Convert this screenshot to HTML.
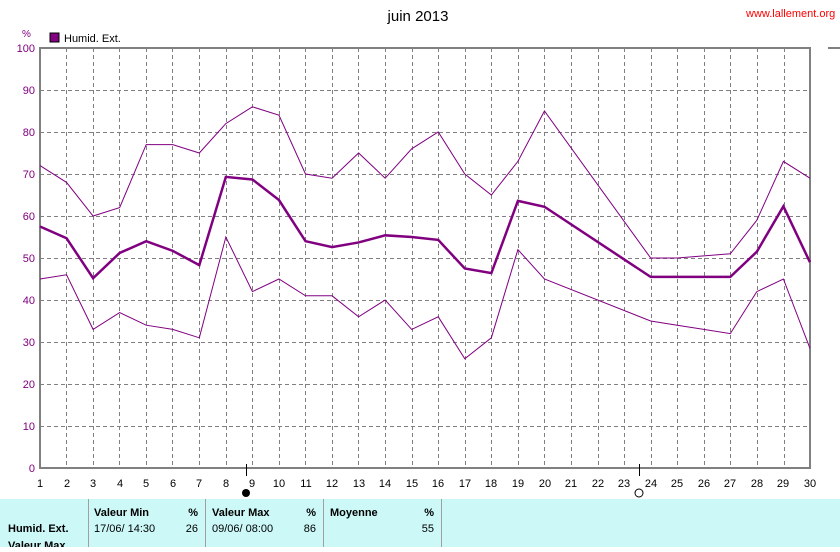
<!DOCTYPE html>
<html><head><style>
body{margin:0;background:#fff;width:840px;height:547px;overflow:hidden;font-family:"Liberation Sans",sans-serif}
svg text{font-family:"Liberation Sans",sans-serif;font-size:11px}
</style></head><body>
<svg width="840" height="547" xmlns="http://www.w3.org/2000/svg">
<text x="418" y="21" font-size="15" text-anchor="middle" style="font-size:15px">juin 2013</text>
<text x="746" y="17" fill="#f00" style="font-size:11px">www.lallement.org</text>
<rect x="50" y="33" width="9" height="9" fill="#800080" stroke="#000" stroke-width="1"/>
<text x="64" y="42">Humid. Ext.</text>
<text x="22" y="37" fill="#800080" style="font-size:10px">%</text>
<g stroke="#808080" stroke-dasharray="4,3" stroke-width="1">
<line x1="40" x2="810" y1="90.5" y2="90.5"/><line x1="40" x2="810" y1="132.5" y2="132.5"/><line x1="40" x2="810" y1="174.5" y2="174.5"/><line x1="40" x2="810" y1="216.5" y2="216.5"/><line x1="40" x2="810" y1="258.5" y2="258.5"/><line x1="40" x2="810" y1="300.5" y2="300.5"/><line x1="40" x2="810" y1="342.5" y2="342.5"/><line x1="40" x2="810" y1="384.5" y2="384.5"/><line x1="40" x2="810" y1="426.5" y2="426.5"/>
<line x1="66.5" x2="66.5" y1="48" y2="468"/><line x1="93.5" x2="93.5" y1="48" y2="468"/><line x1="119.5" x2="119.5" y1="48" y2="468"/><line x1="146.5" x2="146.5" y1="48" y2="468"/><line x1="172.5" x2="172.5" y1="48" y2="468"/><line x1="199.5" x2="199.5" y1="48" y2="468"/><line x1="226.5" x2="226.5" y1="48" y2="468"/><line x1="252.5" x2="252.5" y1="48" y2="468"/><line x1="279.5" x2="279.5" y1="48" y2="468"/><line x1="305.5" x2="305.5" y1="48" y2="468"/><line x1="332.5" x2="332.5" y1="48" y2="468"/><line x1="358.5" x2="358.5" y1="48" y2="468"/><line x1="385.5" x2="385.5" y1="48" y2="468"/><line x1="412.5" x2="412.5" y1="48" y2="468"/><line x1="438.5" x2="438.5" y1="48" y2="468"/><line x1="465.5" x2="465.5" y1="48" y2="468"/><line x1="491.5" x2="491.5" y1="48" y2="468"/><line x1="518.5" x2="518.5" y1="48" y2="468"/><line x1="544.5" x2="544.5" y1="48" y2="468"/><line x1="571.5" x2="571.5" y1="48" y2="468"/><line x1="598.5" x2="598.5" y1="48" y2="468"/><line x1="624.5" x2="624.5" y1="48" y2="468"/><line x1="651.5" x2="651.5" y1="48" y2="468"/><line x1="677.5" x2="677.5" y1="48" y2="468"/><line x1="704.5" x2="704.5" y1="48" y2="468"/><line x1="730.5" x2="730.5" y1="48" y2="468"/><line x1="757.5" x2="757.5" y1="48" y2="468"/><line x1="784.5" x2="784.5" y1="48" y2="468"/>
</g>
<rect x="40" y="48" width="770" height="420" fill="none" stroke="#808080" stroke-width="2"/>
<g fill="#800080" text-anchor="end" style="font-size:11px">
<text x="35" y="52">100</text><text x="35" y="94">90</text><text x="35" y="136">80</text><text x="35" y="178">70</text><text x="35" y="220">60</text><text x="35" y="262">50</text><text x="35" y="304">40</text><text x="35" y="346">30</text><text x="35" y="388">20</text><text x="35" y="430">10</text><text x="35" y="472">0</text>
</g>
<g text-anchor="middle" style="font-size:11px">
<text x="40" y="487">1</text><text x="67" y="487">2</text><text x="93" y="487">3</text><text x="120" y="487">4</text><text x="146" y="487">5</text><text x="173" y="487">6</text><text x="199" y="487">7</text><text x="226" y="487">8</text><text x="252" y="487">9</text><text x="279" y="487">10</text><text x="306" y="487">11</text><text x="332" y="487">12</text><text x="359" y="487">13</text><text x="385" y="487">14</text><text x="412" y="487">15</text><text x="438" y="487">16</text><text x="465" y="487">17</text><text x="491" y="487">18</text><text x="518" y="487">19</text><text x="545" y="487">20</text><text x="571" y="487">21</text><text x="598" y="487">22</text><text x="624" y="487">23</text><text x="651" y="487">24</text><text x="677" y="487">25</text><text x="704" y="487">26</text><text x="730" y="487">27</text><text x="757" y="487">28</text><text x="783" y="487">29</text><text x="810" y="487">30</text>
</g>
<line x1="246.5" x2="246.5" y1="464" y2="476" stroke="#000"/>
<circle cx="246" cy="493" r="4" fill="#000"/>
<line x1="639.5" x2="639.5" y1="464" y2="476" stroke="#000"/>
<circle cx="639" cy="493" r="4" fill="none" stroke="#000"/>
<g transform="translate(40,468) scale(26.55,-4.2)" fill="none" stroke="#800080">
<polyline vector-effect="non-scaling-stroke" stroke-width="1" points="0,72 1,68 2,60 3,62 4,77 5,77 6,75 7,82 8,86 9,84 10,70 11,69 12,75 13,69 14,76 15,80 16,70 17,65 18,73 19,85 23,50 24,50 25,50.5 26,51 27,59 28,73 29,69"/>
<polyline vector-effect="non-scaling-stroke" stroke-width="2.5" points="0,57.5 1,54.7 2,45.2 3,51.2 4,54 5,51.7 6,48.3 7,69.3 8,68.7 9,63.8 10,54 11,52.6 12,53.7 13,55.4 14,55 15,54.3 16,47.5 17,46.4 18,63.6 19,62.2 23,45.5 24,45.5 25,45.5 26,45.5 27,51.5 28,62.3 29,49"/>
<polyline vector-effect="non-scaling-stroke" stroke-width="1" points="0,45 1,46 2,33 3,37 4,34 5,33 6,31 7,55 8,42 9,45 10,41 11,41 12,36 13,40 14,33 15,36 16,26 17,31 18,52 19,45 23,35 24,34 25,33 26,32 27,42 28,45 29,28.5"/>
</g>
<line x1="828" x2="840" y1="48" y2="48" stroke="#808080" stroke-width="2"/>
<rect x="0" y="499" width="840" height="48" fill="#ccf8f8"/>
<g stroke="#a0a0a0" stroke-width="1"><line x1="88.5" x2="88.5" y1="499" y2="547"/><line x1="205.5" x2="205.5" y1="499" y2="547"/><line x1="323.5" x2="323.5" y1="499" y2="547"/><line x1="441.5" x2="441.5" y1="499" y2="547"/></g>
<g style="font-size:11px">
<text x="94" y="516" font-weight="bold">Valeur Min</text><text x="198" y="516" font-weight="bold" text-anchor="end">%</text>
<text x="212" y="516" font-weight="bold">Valeur Max</text><text x="316" y="516" font-weight="bold" text-anchor="end">%</text>
<text x="330" y="516" font-weight="bold">Moyenne</text><text x="434" y="516" font-weight="bold" text-anchor="end">%</text>
<text x="94" y="532">17/06/  14:30</text><text x="198" y="532" text-anchor="end">26</text>
<text x="212" y="532">09/06/  08:00</text><text x="316" y="532" text-anchor="end">86</text>
<text x="434" y="532" text-anchor="end">55</text>
<text x="8" y="532" font-weight="bold">Humid. Ext.</text>
<text x="8" y="549" font-weight="bold">Valeur Max</text>
</g>
</svg>
</body></html>
